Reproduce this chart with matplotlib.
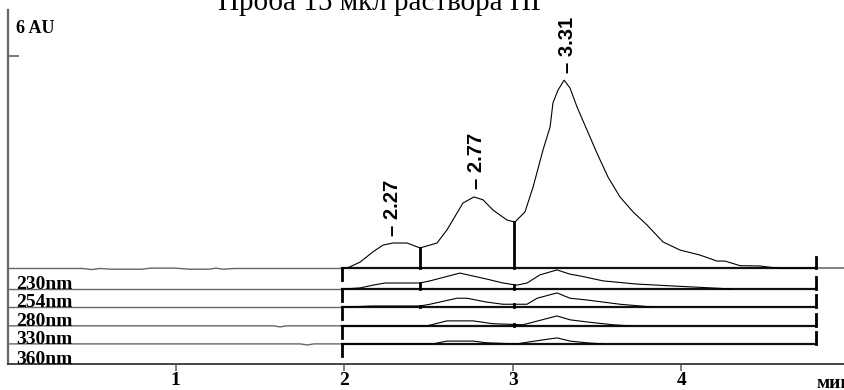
import numpy as np
import matplotlib
matplotlib.use('Agg')
import matplotlib.pyplot as plt

# main channel (AU above its own baseline), time in minutes
main_t = [0.005, 0.45, 0.50, 0.55, 0.62, 0.80, 0.85, 1.00, 1.08, 1.20, 1.24, 1.28, 1.35, 1.987,
          2.017, 2.094, 2.171, 2.230, 2.290, 2.373, 2.450, 2.551, 2.610, 2.670, 2.705, 2.770,
          2.824, 2.883, 2.966, 3.013, 3.073, 3.121, 3.180, 3.222, 3.239, 3.269, 3.305, 3.340,
          3.382, 3.441, 3.500, 3.566, 3.637, 3.714, 3.797, 3.892, 3.993, 4.111, 4.212, 4.260,
          4.349, 4.468, 4.586, 4.800, 4.972]
main_y = [0.0, 0.0, -0.03, 0.0, -0.02, -0.02, 0.01, 0.01, -0.02, -0.02, 0.01, -0.02, 0.0, 0.0,
          0.01, 0.18, 0.47, 0.66, 0.72, 0.72, 0.58, 0.72, 1.09, 1.57, 1.85, 2.02,
          1.94, 1.65, 1.37, 1.31, 1.60, 2.30, 3.35, 4.00, 4.68, 5.04, 5.32, 5.10,
          4.56, 3.91, 3.26, 2.58, 2.02, 1.60, 1.23, 0.75, 0.52, 0.38, 0.21, 0.21,
          0.08, 0.07, 0.0, 0.0, 0.0]

# other wavelengths
wl_labels = ['230nm', '254nm', '280nm', '330nm', '360nm']
wl_offsets = [-0.58, -1.09, -1.62, -2.13, -2.70]

t230 = [0.005, 1.987, 2.094, 2.171, 2.243, 2.450, 2.509, 2.687, 2.847, 2.942, 3.025, 3.085,
        3.162, 3.263, 3.340, 3.400, 3.536, 3.737, 3.975, 4.307, 4.972]
y230 = [0.0, 0.0, 0.03, 0.11, 0.17, 0.17, 0.23, 0.45, 0.28, 0.17, 0.11, 0.17,
        0.40, 0.54, 0.42, 0.37, 0.23, 0.14, 0.08, 0.0, 0.0]

t254 = [0.005, 1.987, 2.171, 2.450, 2.509, 2.669, 2.729, 2.847, 2.942, 3.013, 3.085, 3.145,
        3.263, 3.340, 3.441, 3.637, 3.833, 4.972]
y254 = [0.0, 0.0, 0.03, 0.03, 0.08, 0.25, 0.25, 0.14, 0.08, 0.08, 0.08, 0.25,
        0.40, 0.25, 0.20, 0.08, 0.0, 0.0]

t280 = [0.005, 1.58, 1.62, 1.66, 1.987, 2.492, 2.610, 2.765, 2.883, 3.061, 3.263, 3.340,
        3.441, 3.596, 3.696, 4.972]
y280 = [0.0, 0.0, -0.03, 0.0, 0.0, 0.0, 0.14, 0.14, 0.06, 0.03, 0.28, 0.17,
        0.11, 0.03, 0.0, 0.0]

t330 = [0.005, 1.74, 1.78, 1.82, 1.987, 2.527, 2.610, 2.765, 2.847, 3.025, 3.103, 3.263,
        3.340, 3.441, 3.536, 4.972]
y330 = [0.0, 0.0, -0.03, 0.0, 0.0, 0.0, 0.08, 0.08, 0.03, 0.0, 0.06, 0.17,
        0.08, 0.03, 0.0, 0.0]

peaks = [2.27, 2.77, 3.31]
drops = [2.45, 3.01]
t_start, t_end = 1.987, 4.80
xticks = [1, 2, 3, 4]
title = 'Проба 15 мкл раствора ПГ'

fig = plt.figure(figsize=(8.45, 3.9), dpi=100)
ax = fig.add_axes([8/845, 26/390, 837/845, 354/390])
ax.set_xlim(0.005, 4.972)
ax.set_ylim(-2.698, 7.302)

traces = [(main_t, main_y, 0.0), (t230, y230, wl_offsets[0]), (t254, y254, wl_offsets[1]),
          (t280, y280, wl_offsets[2]), (t330, y330, wl_offsets[3])]

for t, y, off in traces:
    t = np.array(t)
    y = np.array(y) + off
    pre = t <= t_start
    mid = (t >= t_start) & (t <= t_end)
    post = t >= t_end
    ax.plot(t[pre], y[pre], color='#666666', lw=1.0)
    ax.plot(t[post], y[post], color='#777777', lw=1.3)
    ax.plot([t_start, t_end], [off, off], color='#111111', lw=1.6)
    ax.plot(t[mid], y[mid], color='black', lw=0.8)
    # integration start / end marks
    ax.plot([t_start, t_start], [off, off - 0.33], color='black', lw=2)
    ax.plot([t_end, t_end], [off, off + 0.33], color='black', lw=2)
    for d in drops:
        ax.plot([d, d], [off, off + np.interp(d, t, y - off)], color='black', lw=2)

for p in peaks:
    top = np.interp(p, main_t, main_y)
    ax.text(p + 0.015, top + 0.22, '\u2013 %.2f' % p, rotation=90, ha='center', va='bottom',
            fontsize=14.5, fontweight='bold', family=['Liberation Sans Narrow', 'Liberation Sans'])

for lab, off in zip(wl_labels, wl_offsets):
    ax.text(0.052, off + 0.12, lab, ha='left', va='center', fontsize=14,
            fontweight='bold', family='Liberation Serif')

ax.text(0.052, 6.79, '6 AU', ha='left', va='center', fontsize=13,
        fontweight='bold', family='Liberation Serif')

for s in ['top', 'right']:
    ax.spines[s].set_visible(False)
ax.spines['left'].set_color('#666666')
ax.spines['left'].set_linewidth(1.6)
ax.spines['bottom'].set_color('#444444')
ax.spines['bottom'].set_linewidth(1.4)

ax.set_yticks([6])
ax.set_yticklabels([''])
ax.tick_params(axis='y', direction='in', length=8, width=1.2, color='#666666')
ax.set_xticks(xticks)
ax.set_xticklabels([str(v) for v in xticks], fontsize=14, fontweight='bold',
                   family='Liberation Serif')
ax.tick_params(axis='x', direction='out', length=5, width=1.2, color='#666666', pad=1)

fig.text(817/845, 7/390, 'мин', ha='left', va='center', fontsize=14,
         fontweight='bold', family='Liberation Serif')
fig.text(383/845, 1 - 10/390, title, ha='center', va='baseline', fontsize=21,
         family='Liberation Serif')

fig.savefig('out.png', dpi=100)
